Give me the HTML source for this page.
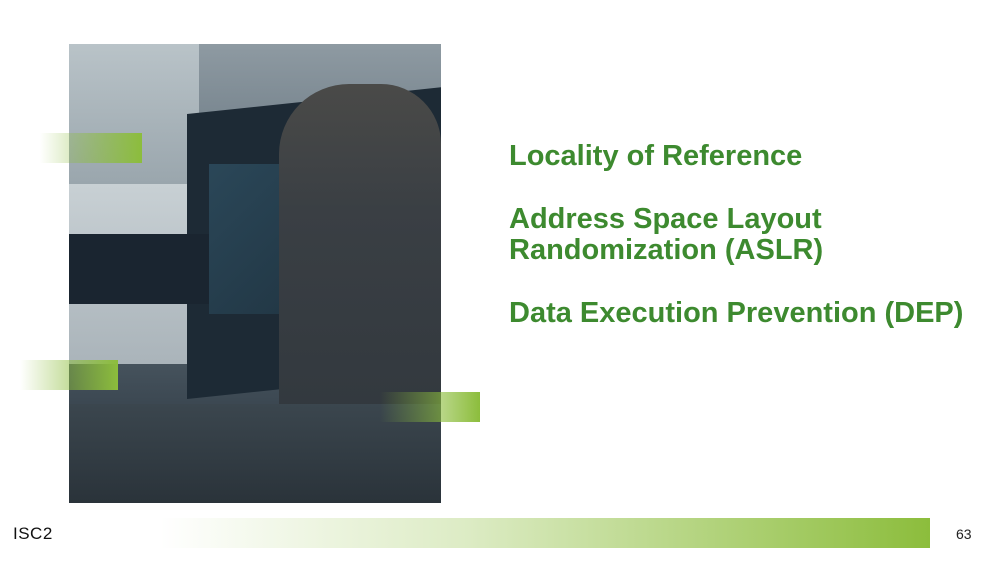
<!DOCTYPE html>
<html><head><style>
body{margin:0;width:1000px;height:563px;background:#fff;position:relative;overflow:hidden;font-family:"Liberation Sans",sans-serif}
.a{position:absolute}
.t{color:#3d8a2f;font-weight:bold;font-size:29px;line-height:31px;left:509px;white-space:nowrap}
</style></head><body>
<div class="a" style="left:69px;top:44px;width:372px;height:459px;background:linear-gradient(180deg,#8e9aa2 0%,#6f7d87 25%,#56646e 55%,#3a4650 80%,#2e3840 100%);overflow:hidden">
  <div class="a" style="left:0;top:0;width:130px;height:140px;background:linear-gradient(180deg,#b9c3c8,#9aa6ad)"></div>
  <div class="a" style="left:0;top:140px;width:120px;height:180px;background:linear-gradient(180deg,#c8d0d4,#aab4ba)"></div>
  <div class="a" style="left:118px;top:70px;width:254px;height:285px;background:#1d2a35;transform:skewY(-6deg);transform-origin:0 0"></div>
  <div class="a" style="left:140px;top:120px;width:160px;height:150px;background:linear-gradient(135deg,#2c4a5c,#1f3340);opacity:.9"></div>
  <div class="a" style="left:210px;top:40px;width:162px;height:419px;background:linear-gradient(180deg,#4a4a48 0%,#3a3f44 30%,#2f363c 100%);border-radius:70px 60px 0 0"></div>
  <div class="a" style="left:0;top:190px;width:140px;height:70px;background:#1a2530"></div>
  <div class="a" style="left:0;top:360px;width:372px;height:99px;background:linear-gradient(180deg,#3b464e,#2a333a)"></div>
</div>
<div class="a" style="left:40px;top:133px;width:102px;height:30px;background:linear-gradient(90deg,rgba(140,190,60,0),#8cbd3c)"></div>
<div class="a" style="left:20px;top:360px;width:98px;height:30px;background:linear-gradient(90deg,rgba(140,190,60,0),#8cbd3c)"></div>
<div class="a" style="left:380px;top:392px;width:100px;height:30px;background:linear-gradient(90deg,rgba(140,190,60,0),#8cbd3c)"></div>
<div class="a" style="left:160px;top:518px;width:770px;height:30px;background:linear-gradient(90deg,rgba(140,190,60,0),rgba(140,190,60,0.3) 40%,#8cbd3c 100%)"></div>
<div class="a t" style="top:141px">Locality of Reference</div>
<div class="a t" style="top:204px">Address Space Layout<br>Randomization (ASLR)</div>
<div class="a t" style="top:298px">Data Execution Prevention (DEP)</div>
<div class="a" style="left:13px;top:524px;font-size:17px;color:#111;letter-spacing:0.5px">ISC2</div>
<div class="a" style="left:956px;top:526px;font-size:14px;color:#222">63</div>
</body></html>
